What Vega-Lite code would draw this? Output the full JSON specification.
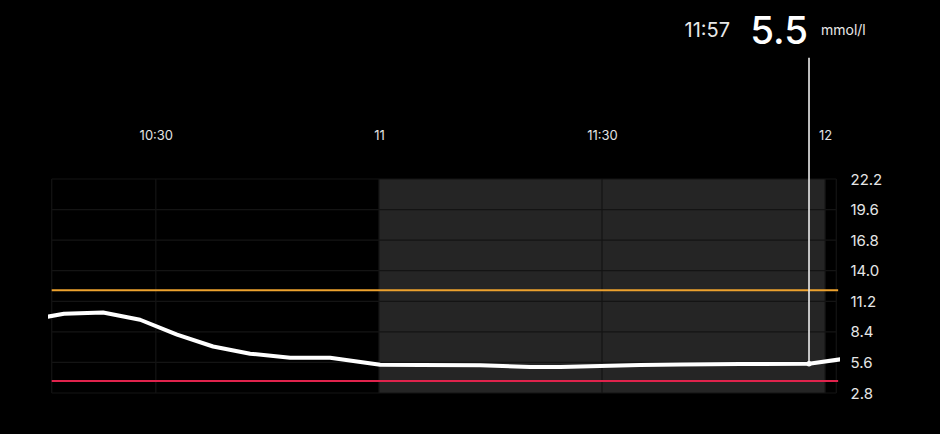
{
  "$schema": "https://vega.github.io/schema/vega-lite/v6.json",
  "width": 792,
  "height": 214,
  "autosize": {"type": "none"},
  "padding": {"left": 48, "top": 179, "right": 100, "bottom": 41},
  "background": "#000000",
  "config": {
    "view": {"stroke": null},
    "font": "Inter",
    "axis": {"labelFont": "Inter", "labelOverlap": false, "labelFlush": false, "labelBound": false}
  },
  "datasets": {
    "glucose": [
      {"time": "2024-05-01T10:12:45Z", "value": 9.45},
      {"time": "2024-05-01T10:17:39Z", "value": 10.06},
      {"time": "2024-05-01T10:22:54Z", "value": 10.17},
      {"time": "2024-05-01T10:27:53Z", "value": 9.51},
      {"time": "2024-05-01T10:32:51Z", "value": 8.14},
      {"time": "2024-05-01T10:37:42Z", "value": 7.06},
      {"time": "2024-05-01T10:42:41Z", "value": 6.4},
      {"time": "2024-05-01T10:48:04Z", "value": 6.03},
      {"time": "2024-05-01T10:53:26Z", "value": 6.03},
      {"time": "2024-05-01T11:00:10Z", "value": 5.39},
      {"time": "2024-05-01T11:05:33Z", "value": 5.36},
      {"time": "2024-05-01T11:13:37Z", "value": 5.34},
      {"time": "2024-05-01T11:20:21Z", "value": 5.18},
      {"time": "2024-05-01T11:24:24Z", "value": 5.18},
      {"time": "2024-05-01T11:29:46Z", "value": 5.28},
      {"time": "2024-05-01T11:35:08Z", "value": 5.36},
      {"time": "2024-05-01T11:40:30Z", "value": 5.42},
      {"time": "2024-05-01T11:48:36Z", "value": 5.45},
      {"time": "2024-05-01T11:57:50Z", "value": 5.48},
      {"time": "2024-05-01T12:02:45Z", "value": 5.95}
    ],
    "window": [
      {"start": "2024-05-01T11:00:00Z", "end": "2024-05-01T12:00:00Z", "low": 2.8, "high": 22.4}
    ],
    "gridY": [
      {"value": 2.8}, {"value": 5.6}, {"value": 8.4}, {"value": 11.2},
      {"value": 14.0}, {"value": 16.8}, {"value": 19.6}, {"value": 22.4}
    ],
    "gridX": [
      {"time": "2024-05-01T10:16:00Z"},
      {"time": "2024-05-01T10:30:00Z"},
      {"time": "2024-05-01T11:00:00Z"},
      {"time": "2024-05-01T11:30:00Z"},
      {"time": "2024-05-01T12:00:00Z"},
      {"time": "2024-05-01T12:01:30Z"}
    ],
    "thresholds": [
      {"kind": "high", "value": 12.2},
      {"kind": "low", "value": 3.9}
    ],
    "cursor": [
      {"time": "2024-05-01T11:57:50Z", "value": 5.48, "reading": "5.5", "clock": "11:57", "unit": "mmol/l"}
    ]
  },
  "layer": [
    {
      "data": {"name": "window"},
      "mark": {"type": "rect", "color": "#252525"},
      "encoding": {
        "x": {
          "field": "start", "type": "temporal", "title": null,
          "scale": {
            "type": "utc",
            "domain": [
              {"year": 2024, "month": 5, "date": 1, "hours": 10, "minutes": 15, "seconds": 30, "utc": true},
              {"year": 2024, "month": 5, "date": 1, "hours": 12, "minutes": 2, "utc": true}
            ]
          },
          "axis": {
            "orient": "top",
            "values": [
              {"year": 2024, "month": 5, "date": 1, "hours": 10, "minutes": 30, "utc": true},
              {"year": 2024, "month": 5, "date": 1, "hours": 11, "minutes": 0, "utc": true},
              {"year": 2024, "month": 5, "date": 1, "hours": 11, "minutes": 30, "utc": true},
              {"year": 2024, "month": 5, "date": 1, "hours": 12, "minutes": 0, "utc": true}
            ],
            "tickCount": 20,
            "labelExpr": "utcFormat(datum.value, '%M') == '00' ? utcFormat(datum.value, '%-H') : utcFormat(datum.value, '%-H:%M')",
            "labelColor": "#e2e2e2",
            "labelFontSize": 13,
            "labelPadding": 37,
            "ticks": false,
            "tickSize": 0,
            "domain": false,
            "grid": false,
            "labelFlush": false,
            "labelOverlap": false
          }
        },
        "x2": {"field": "end"},
        "y": {
          "field": "low", "type": "quantitative", "title": null,
          "scale": {"domain": [2.8, 22.4], "nice": false, "zero": false},
          "axis": {
            "orient": "right",
            "values": [2.8, 5.6, 8.4, 11.2, 14.0, 16.8, 19.6, 22.4],
            "tickCount": 8,
            "labelExpr": "datum.value > 22 ? '22.2' : format(datum.value, '.1f')",
            "labelColor": "#e6e6e6",
            "labelFontSize": 15,
            "labelPadding": 10,
            "labelBaseline": "middle",
            "ticks": false,
            "tickSize": 0,
            "domain": false,
            "grid": false,
            "labelFlush": false,
            "labelOverlap": false,
            "labelBound": false
          }
        },
        "y2": {"field": "high"}
      }
    },
    {
      "data": {"name": "gridY"},
      "mark": {"type": "rule", "color": "#141414", "strokeWidth": 1.2},
      "encoding": {
        "y": {"field": "value", "type": "quantitative"},
        "x": {"datum": {"year": 2024, "month": 5, "date": 1, "hours": 10, "minutes": 16, "utc": true}, "type": "temporal"},
        "x2": {"datum": {"year": 2024, "month": 5, "date": 1, "hours": 12, "minutes": 1, "seconds": 30, "utc": true}}
      }
    },
    {
      "data": {"name": "gridX"},
      "mark": {"type": "rule", "color": "#141414", "strokeWidth": 1.2},
      "encoding": {
        "x": {"field": "time", "type": "temporal"}
      }
    },
    {
      "data": {"name": "thresholds"},
      "mark": {"type": "rule", "strokeWidth": 2},
      "encoding": {
        "y": {"field": "value", "type": "quantitative"},
        "x": {"datum": {"year": 2024, "month": 5, "date": 1, "hours": 10, "minutes": 16, "utc": true}, "type": "temporal"},
        "x2": {"datum": {"year": 2024, "month": 5, "date": 1, "hours": 12, "minutes": 1, "seconds": 45, "utc": true}},
        "color": {
          "field": "kind", "type": "nominal", "legend": null,
          "scale": {"domain": ["high", "low"], "range": ["#eda22e", "#e0234c"]}
        }
      }
    },
    {
      "data": {"name": "glucose"},
      "mark": {"type": "line", "color": "#ffffff", "strokeWidth": 4, "strokeJoin": "round", "clip": true},
      "encoding": {
        "x": {"field": "time", "type": "temporal"},
        "y": {"field": "value", "type": "quantitative"}
      }
    },
    {
      "data": {"name": "cursor"},
      "mark": {"type": "rule", "color": "#ececec", "strokeWidth": 1.6},
      "encoding": {
        "x": {"field": "time", "type": "temporal"},
        "y": {"field": "value", "type": "quantitative"},
        "y2": {"datum": 33.5}
      }
    },
    {
      "data": {"name": "cursor"},
      "mark": {"type": "point", "filled": true, "color": "#ffffff", "size": 28, "opacity": 1},
      "encoding": {
        "x": {"field": "time", "type": "temporal"},
        "y": {"field": "value", "type": "quantitative"}
      }
    },
    {
      "data": {"name": "cursor"},
      "mark": {"type": "text", "color": "#ffffff", "fontSize": 38.5, "fontWeight": 500, "align": "right", "baseline": "alphabetic", "dx": -1},
      "encoding": {
        "x": {"field": "time", "type": "temporal"},
        "y": {"datum": 34.73, "type": "quantitative"},
        "text": {"field": "reading"}
      }
    },
    {
      "data": {"name": "cursor"},
      "mark": {"type": "text", "color": "#e8e8e8", "fontSize": 20, "fontWeight": 400, "align": "right", "baseline": "alphabetic", "dx": -79, "dy": -7},
      "encoding": {
        "x": {"field": "time", "type": "temporal"},
        "y": {"datum": 34.73, "type": "quantitative"},
        "text": {"field": "clock"}
      }
    },
    {
      "data": {"name": "cursor"},
      "mark": {"type": "text", "color": "#e8e8e8", "fontSize": 14, "fontWeight": 400, "align": "left", "baseline": "alphabetic", "dx": 12, "dy": -9.3},
      "encoding": {
        "x": {"field": "time", "type": "temporal"},
        "y": {"datum": 34.73, "type": "quantitative"},
        "text": {"field": "unit"}
      }
    }
  ]
}
